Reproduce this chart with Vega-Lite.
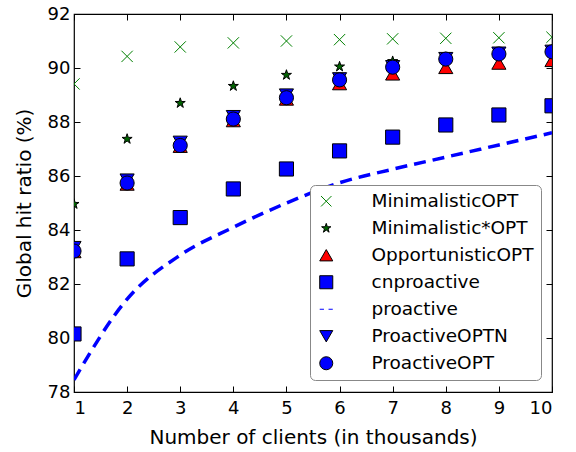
{
  "$schema": "https://vega.github.io/schema/vega-lite/v6.json",
  "width": 478,
  "height": 378,
  "autosize": "none",
  "padding": {"left": 74, "top": 14, "right": 24, "bottom": 60},
  "background": "white",
  "config": {
    "font": "DejaVu Sans",
    "view": {"stroke": "black", "strokeWidth": 1.2},
    "axis": {"grid": false, "domain": false, "labelFont": "DejaVu Sans", "titleFont": "DejaVu Sans", "labelFontSize": 18, "titleFontSize": 20, "titleFontWeight": "normal", "labelColor": "black", "titleColor": "black", "tickColor": "black"}
  },
  "data": {"values": [
    {"x":1,"y":89.41,"s":"MinimalisticOPT"},{"x":2,"y":90.43,"s":"MinimalisticOPT"},{"x":3,"y":90.78,"s":"MinimalisticOPT"},{"x":4,"y":90.93,"s":"MinimalisticOPT"},{"x":5,"y":91.0,"s":"MinimalisticOPT"},{"x":6,"y":91.05,"s":"MinimalisticOPT"},{"x":7,"y":91.08,"s":"MinimalisticOPT"},{"x":8,"y":91.1,"s":"MinimalisticOPT"},{"x":9,"y":91.12,"s":"MinimalisticOPT"},{"x":10,"y":91.14,"s":"MinimalisticOPT"},
    {"x":1,"y":84.96,"s":"Minimalistic*OPT"},{"x":2,"y":87.37,"s":"Minimalistic*OPT"},{"x":3,"y":88.7,"s":"Minimalistic*OPT"},{"x":4,"y":89.33,"s":"Minimalistic*OPT"},{"x":5,"y":89.74,"s":"Minimalistic*OPT"},{"x":6,"y":90.05,"s":"Minimalistic*OPT"},{"x":7,"y":90.25,"s":"Minimalistic*OPT"},{"x":8,"y":90.4,"s":"Minimalistic*OPT"},{"x":9,"y":90.55,"s":"Minimalistic*OPT"},{"x":10,"y":90.65,"s":"Minimalistic*OPT"},
    {"x":1,"y":83.2,"s":"OpportunisticOPT"},{"x":2,"y":85.7,"s":"OpportunisticOPT"},{"x":3,"y":87.1,"s":"OpportunisticOPT"},{"x":4,"y":88.05,"s":"OpportunisticOPT"},{"x":5,"y":88.85,"s":"OpportunisticOPT"},{"x":6,"y":89.42,"s":"OpportunisticOPT"},{"x":7,"y":89.78,"s":"OpportunisticOPT"},{"x":8,"y":90.02,"s":"OpportunisticOPT"},{"x":9,"y":90.18,"s":"OpportunisticOPT"},{"x":10,"y":90.28,"s":"OpportunisticOPT"},
    {"x":1,"y":80.15,"s":"cnproactive"},{"x":2,"y":82.93,"s":"cnproactive"},{"x":3,"y":84.46,"s":"cnproactive"},{"x":4,"y":85.52,"s":"cnproactive"},{"x":5,"y":86.26,"s":"cnproactive"},{"x":6,"y":86.93,"s":"cnproactive"},{"x":7,"y":87.44,"s":"cnproactive"},{"x":8,"y":87.89,"s":"cnproactive"},{"x":9,"y":88.26,"s":"cnproactive"},{"x":10,"y":88.6,"s":"cnproactive"},
    {"x":1,"y":78.45,"s":"proactive"},{"x":2,"y":81.44,"s":"proactive"},{"x":3,"y":83.07,"s":"proactive"},{"x":4,"y":84.1,"s":"proactive"},{"x":5,"y":85.0,"s":"proactive"},{"x":6,"y":85.75,"s":"proactive"},{"x":7,"y":86.25,"s":"proactive"},{"x":8,"y":86.7,"s":"proactive"},{"x":9,"y":87.15,"s":"proactive"},{"x":10,"y":87.6,"s":"proactive"},
    {"x":1,"y":83.35,"s":"ProactiveOPTN"},{"x":2,"y":85.85,"s":"ProactiveOPTN"},{"x":3,"y":87.25,"s":"ProactiveOPTN"},{"x":4,"y":88.2,"s":"ProactiveOPTN"},{"x":5,"y":89.0,"s":"ProactiveOPTN"},{"x":6,"y":89.6,"s":"ProactiveOPTN"},{"x":7,"y":90.05,"s":"ProactiveOPTN"},{"x":8,"y":90.35,"s":"ProactiveOPTN"},{"x":9,"y":90.55,"s":"ProactiveOPTN"},{"x":10,"y":90.62,"s":"ProactiveOPTN"},
    {"x":1,"y":83.22,"s":"ProactiveOPT"},{"x":2,"y":85.74,"s":"ProactiveOPT"},{"x":3,"y":87.13,"s":"ProactiveOPT"},{"x":4,"y":88.11,"s":"ProactiveOPT"},{"x":5,"y":88.9,"s":"ProactiveOPT"},{"x":6,"y":89.56,"s":"ProactiveOPT"},{"x":7,"y":90.03,"s":"ProactiveOPT"},{"x":8,"y":90.33,"s":"ProactiveOPT"},{"x":9,"y":90.52,"s":"ProactiveOPT"},{"x":10,"y":90.6,"s":"ProactiveOPT"}
  ]},
  "layer": [
    {
      "transform": [{"filter": "datum.s !== 'proactive'"}],
      "mark": {"type": "point", "filled": true, "size": 200, "strokeWidth": 1, "opacity": 1, "clip": true},
      "encoding": {
        "x": {"field": "x", "type": "quantitative", "scale": {"domain": [1, 10], "nice": false}, "axis": {"orient": "bottom", "title": "Number of clients (in thousands)", "values": [1,2,3,4,5,6,7,8,9,10], "tickSize": -6, "labelPadding": 13, "titlePadding": 10}},
        "y": {"field": "y", "type": "quantitative", "scale": {"domain": [78, 92], "nice": false}, "axis": {"orient": "left", "title": "Global hit ratio (%)", "values": [78,80,82,84,86,88,90,92], "tickSize": -6, "labelPadding": 10, "titlePadding": 13}},
        "fill": {"field": "s", "type": "nominal", "sort": null, "scale": {"domain": ["MinimalisticOPT","Minimalistic*OPT","OpportunisticOPT","cnproactive","proactive","ProactiveOPTN","ProactiveOPT"], "range": ["#008000","#006400","#ff0000","#0000ff","#0000ff","#0000ff","#0000ff"]}, "legend": {"title": null, "orient": "none", "legendX": 236, "legendY": 171, "padding": 7, "rowPadding": 8, "labelFontSize": 18.5, "labelFont": "DejaVu Sans", "labelColor": "black", "labelOffset": 36, "symbolSize": 170, "symbolStrokeWidth": 1, "strokeColor": "#888888", "cornerRadius": 5, "fillColor": "white", "labelLimit": 300}},
        "stroke": {"field": "s", "type": "nominal", "sort": null, "scale": {"domain": ["MinimalisticOPT","Minimalistic*OPT","OpportunisticOPT","cnproactive","proactive","ProactiveOPTN","ProactiveOPT"], "range": ["#008000","#000000","#000000","#000000","#0000ff","#000000","#000000"]}},
        "shape": {"field": "s", "type": "nominal", "sort": null, "scale": {"domain": ["MinimalisticOPT","Minimalistic*OPT","OpportunisticOPT","cnproactive","proactive","ProactiveOPTN","ProactiveOPT"], "range": ["M-0.8,-0.8L0.8,0.8M0.8,-0.8L-0.8,0.8", "M0,-0.75L0.17,-0.23L0.71,-0.23L0.27,0.09L0.44,0.61L0,0.28L-0.44,0.61L-0.27,0.09L-0.71,-0.23L-0.17,-0.23Z", "triangle-up", "square", "M-1,0L-0.35,0M0.35,0L1,0", "triangle-down", "circle"]}}
      }
    },
    {
      "transform": [{"filter": "datum.s === 'proactive'"}],
      "mark": {"type": "line", "strokeWidth": 3.5, "strokeDash": [12, 7], "interpolate": "monotone", "clip": true},
      "encoding": {
        "x": {"field": "x", "type": "quantitative", "axis": {"orient": "top", "labels": false, "title": null, "values": [1,2,3,4,5,6,7,8,9,10], "tickSize": -6}},
        "y": {"field": "y", "type": "quantitative", "axis": {"orient": "right", "labels": false, "title": null, "values": [78,80,82,84,86,88,90,92], "tickSize": -6}},
        "stroke": {"field": "s", "type": "nominal", "sort": null}
      }
    }
  ],
  "resolve": {"axis": {"x": "independent", "y": "independent"}}
}
